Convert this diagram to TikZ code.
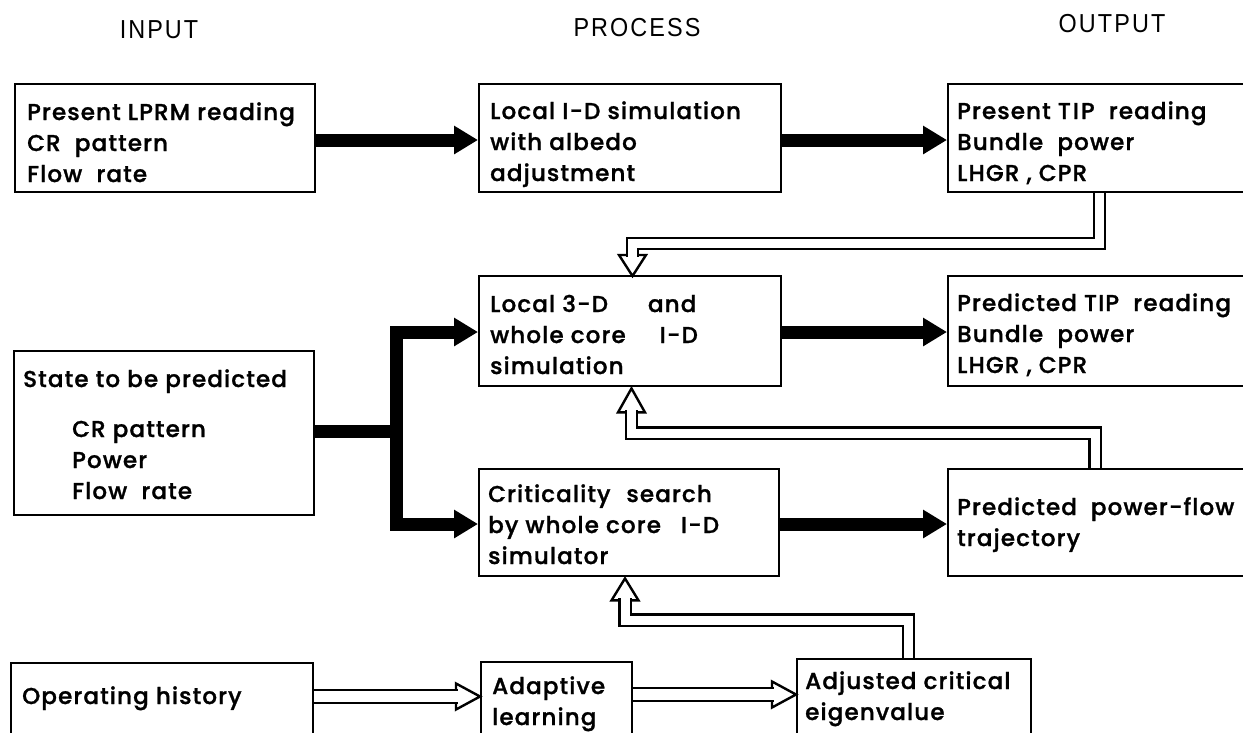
\documentclass[tikz,border=0pt]{standalone}
\usepackage{fontspec}
\newfontfamily\mf[LetterSpace=5,FakeBold=1.2]{Poppins Medium}
\newfontfamily\tf[FakeStretch=0.9,LetterSpace=8]{Liberation Sans}
\usetikzlibrary{arrows.meta,calc}
\begin{document}
\begin{tikzpicture}[x=1pt,y=-1pt,
  box/.style={draw, line width=2.4pt, anchor=north west, inner sep=0pt},
  txt/.style={font=\mf\fontsize{23}{31}\selectfont, anchor=base west, align=left, inner sep=0pt},
  ttl/.style={font=\tf\fontsize{26}{30}\selectfont, anchor=base, inner sep=0pt},
  bigarrow/.style={line width=13pt, line join=miter, -{Triangle[length=24pt,width=27pt]}},
  hollow/.style={line width=2.4pt, double=white, double distance=#1, line join=miter},
  hollow/.default=9pt,
  hhead/.style={line width=2.4pt, fill=white, line join=miter}]
\useasboundingbox (0,0) rectangle (1243,732);
\clip (0,0) rectangle (1243,732);

% titles
\node[ttl] (tin) at (159,38) {I\hspace{2pt}NPUT};
\node[ttl] (tpr) at (637,36) {PROCESS};
\node[ttl] (tou) at (1112,32) {OUTPUT};

% boxes
\node[box, minimum width=300pt, minimum height=108pt] (in1) at (14,83) {};
\node[box, minimum width=302pt, minimum height=108pt] (p1) at (478,83) {};
\node[box, minimum width=320pt, minimum height=108pt] (o1) at (947,83) {};
\node[box, minimum width=302pt, minimum height=110pt] (p2) at (478,275) {};
\node[box, minimum width=320pt, minimum height=110pt] (o2) at (947,275) {};
\node[box, minimum width=300pt, minimum height=164pt] (st) at (13,350) {};
\node[box, minimum width=300pt, minimum height=107pt] (p3) at (478,468) {};
\node[box, minimum width=320pt, minimum height=107pt] (o3) at (947,468) {};
\node[box, minimum width=302pt, minimum height=90pt] (oh) at (10,662) {};
\node[box, minimum width=151pt, minimum height=90pt] (al) at (480,661) {};
\node[box, minimum width=234pt, minimum height=90pt] (ac) at (796,658) {};

% texts (anchor = baseline of the last line)
\node[txt] (in1t) at ($(in1.north west)+(13,99)$) {Present LPRM reading\\CR\ \ pattern\\Flow\ \ rate};
\node[txt] (p1t) at ($(p1.north west)+(12,98)$) {Local I-D simulation\\with albedo\\adjustment};
\node[txt] (o1t) at ($(o1.north west)+(10,98)$) {Present T\hspace{2pt}I\hspace{2pt}P\ \ reading\\Bundle\ \ power\\LHGR , CPR};
\node[txt] (p2t) at ($(p2.north west)+(12,99)$) {Local 3-D\hspace{40pt}and\\whole core\hspace{34pt}I-D\\simulation};
\node[txt] (o2t) at ($(o2.north west)+(10,98)$) {Predicted TIP\ \ reading\\Bundle\ \ power\\LHGR , CPR};
\node[txt] (stt) at ($(st.north west)+(10,149)$) {State to be predicted\\[19pt]\hspace*{49pt}CR pattern\\\hspace*{49pt}Power\\\hspace*{49pt}Flow\ \ rate};
\node[txt] (p3t) at ($(p3.north west)+(10,96)$) {Criticality\hspace{16pt}search\\by whole core\hspace{20pt}I-D\\simulator};
\node[txt] (o3t) at ($(o3.north west)+(10,78)$) {Predicted\hspace{14pt}power-flow\\trajectory};
\node[txt] (oht) at ($(oh.north west)+(12,42)$) {Operating history};
\node[txt] (alt) at ($(al.north west)+(12,64)$) {Adaptive\\learning};
\node[txt] (act) at ($(ac.north west)+(9,62)$) {Adjusted critical\\eigenvalue};

% thick arrows
\coordinate (r1) at (0,140);
\coordinate (r2) at (0,332);
\coordinate (r3) at (0,524);
\coordinate (j) at (396.5,431.5);
\draw[bigarrow] (in1.east |- r1) -- (p1.west |- r1);
\draw[bigarrow] (p1.east |- r1) -- (o1.west |- r1);
\draw[bigarrow] (p2.east |- r2) -- (o2.west |- r2);
\draw[bigarrow] (p3.east |- r3) -- (o3.west |- r3);
\draw[bigarrow] (st.east |- j) -- (j) |- (p2.west |- r2);
\draw[bigarrow] (j) |- (p3.west |- r3);

% hollow arrows
\coordinate (a1s) at ($(o1.south west)+(152.5,0)$);
\coordinate (a1t) at ($(p2.north west)+(154.5,1)$);
\draw[hhead] ($(a1t)+(-13.5,-21)$) -- (a1t) -- ($(a1t)+(13.5,-21)$) -- cycle;
\draw[hollow] (a1s) -- ++(0,50) -| ($(a1t)+(0,-19)$);

\coordinate (a2s) at ($(o3.north west)+(148,0)$);
\coordinate (a2t) at ($(p2.south west)+(153.5,1)$);
\draw[hhead] ($(a2t)+(-13.5,24)$) -- (a2t) -- ($(a2t)+(13.5,24)$) -- cycle;
\draw[hollow] (a2s) -- ++(0,-35) -| ($(a2t)+(0,22)$);

\coordinate (a3s) at ($(ac.north west)+(112.5,0)$);
\coordinate (a3t) at ($(p3.south west)+(147,1)$);
\draw[hhead] ($(a3t)+(-13.5,22)$) -- (a3t) -- ($(a3t)+(13.5,22)$) -- cycle;
\draw[hollow] (a3s) -- ++(0,-38) -| ($(a3t)+(0,20)$);

\coordinate (r4) at (0,696.5);
\coordinate (a4t) at (al.west |- r4);
\draw[hhead] ($(a4t)+(-24,-13)$) -- (a4t) -- ($(a4t)+(-24,13)$) -- cycle;
\draw[hollow=10.5pt] (oh.east |- r4) -- ($(a4t)+(-22,0)$);

\coordinate (r5) at (0,694.5);
\coordinate (a5t) at (ac.west |- r5);
\draw[hhead] ($(a5t)+(-24,-13)$) -- (a5t) -- ($(a5t)+(-24,13)$) -- cycle;
\draw[hollow=10.5pt] (al.east |- r5) -- ($(a5t)+(-22,0)$);
\end{tikzpicture}
\end{document}
